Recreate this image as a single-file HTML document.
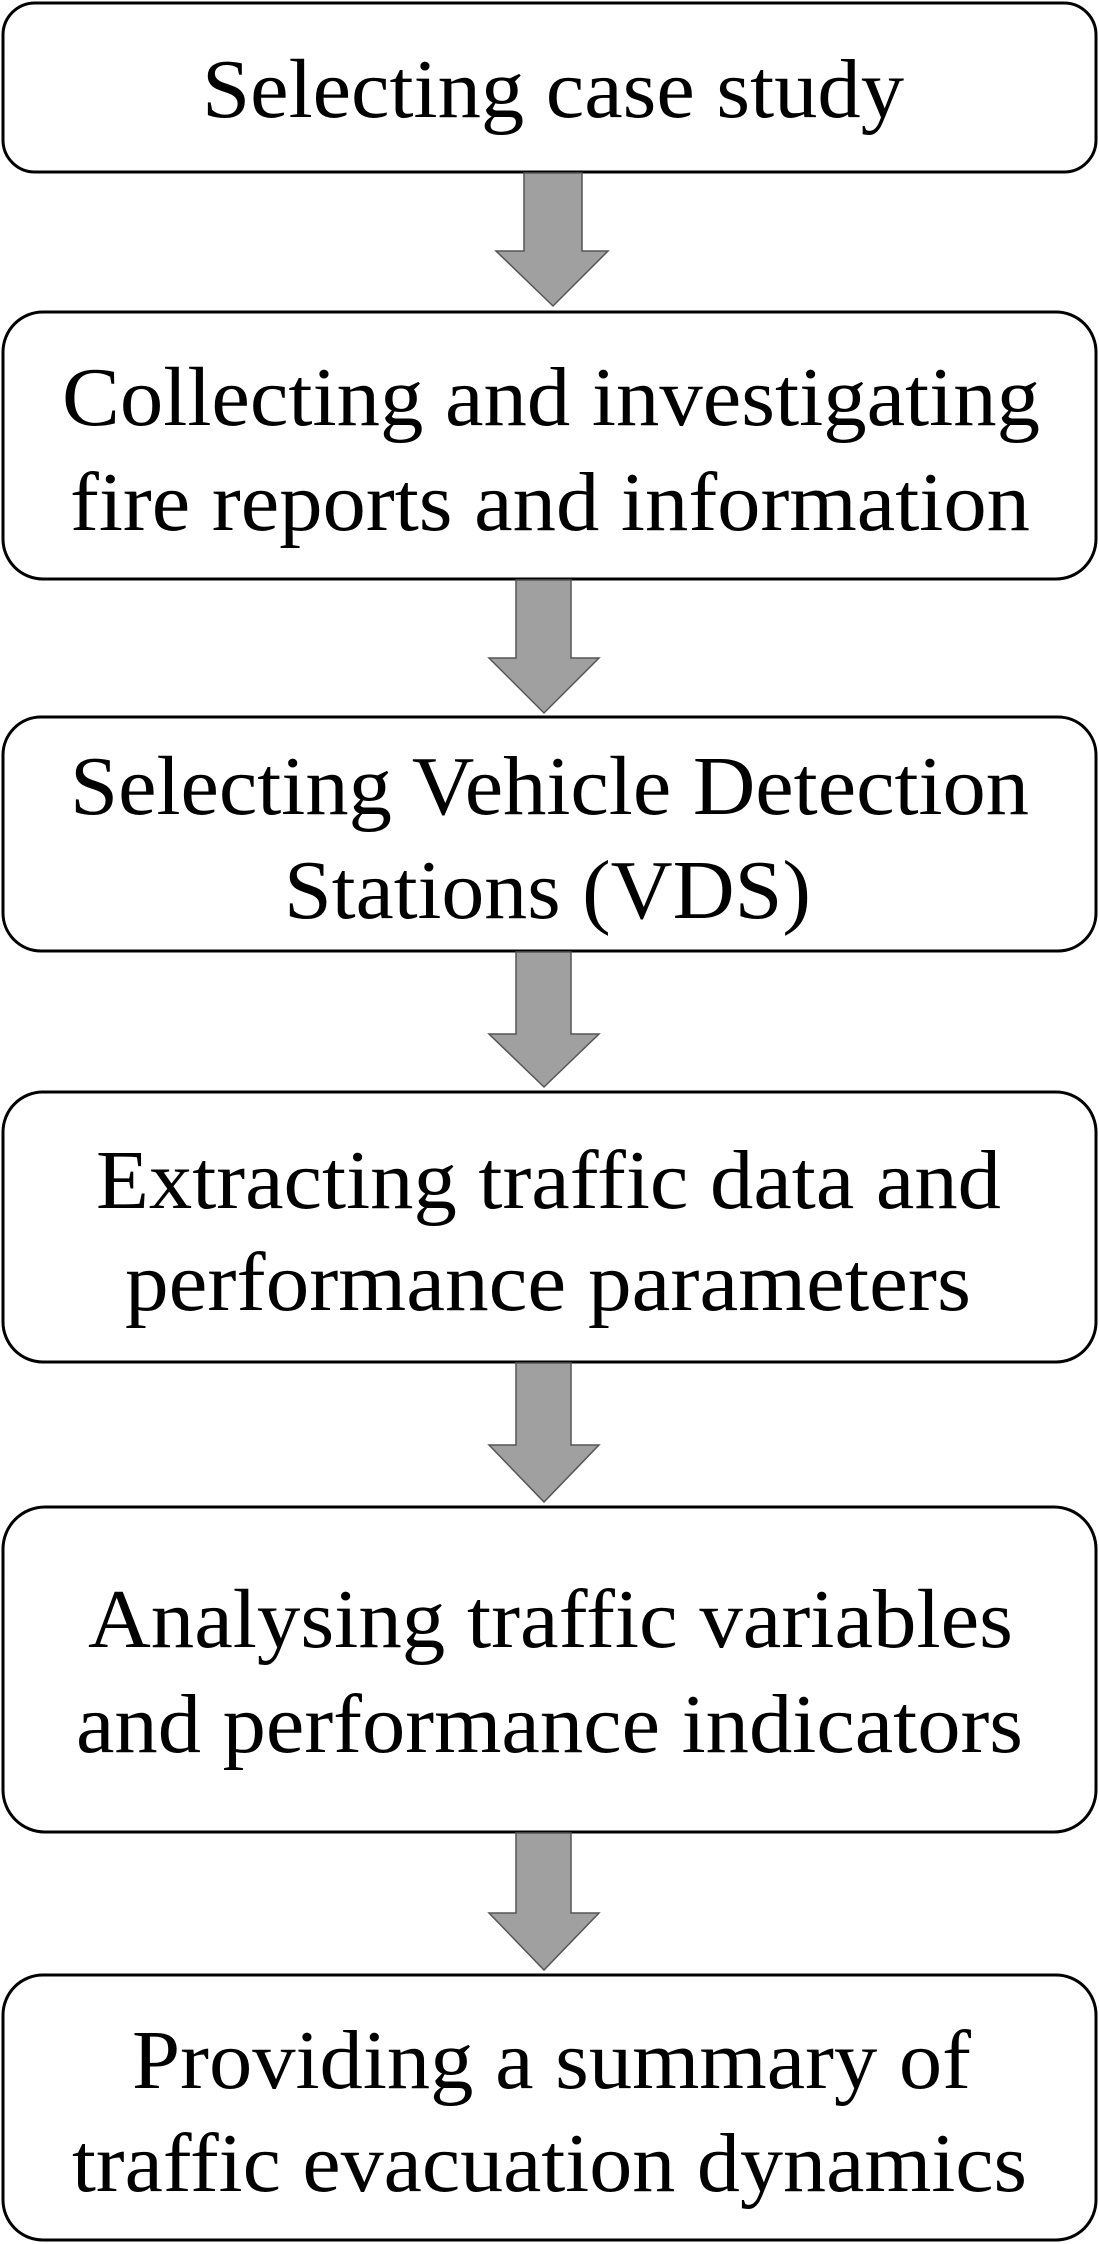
<!DOCTYPE html>
<html><head><meta charset="utf-8"><style>
html,body{margin:0;padding:0;background:#fff;}
svg{display:block;}
text{font-family:"Liberation Serif",serif;font-size:84px;fill:#000;}
</style></head><body>
<svg width="1099" height="2244" viewBox="0 0 1099 2244" xmlns="http://www.w3.org/2000/svg">
<g fill="#fff" stroke="#000" stroke-width="3">
<rect x="3" y="3" width="1093" height="169" rx="32"/>
<rect x="3" y="312" width="1093" height="267" rx="40"/>
<rect x="3" y="717" width="1093" height="234" rx="38"/>
<rect x="3" y="1092" width="1093" height="270" rx="40"/>
<rect x="3" y="1507" width="1093" height="325" rx="42"/>
<rect x="3" y="1975" width="1093" height="265" rx="40"/>
</g>
<g fill="#a0a0a0" stroke="#555" stroke-width="1.5">
<polygon points="524,173 582,173 582,251 608,251 553,306 496,251 524,251"/>
<polygon points="516,580 571,580 571,658 599,658 544,713 489,658 516,658"/>
<polygon points="516,952 571,952 571,1034 599,1034 544,1087 489,1034 516,1034"/>
<polygon points="516,1363 571,1363 571,1445 599,1445 544,1502 489,1445 516,1445"/>
<polygon points="516,1833 571,1833 571,1913 599,1913 544,1970 489,1913 516,1913"/>
</g>
<text x="202" y="117" textLength="702" lengthAdjust="spacingAndGlyphs">Selecting case study</text>
<text x="62" y="425" textLength="978" lengthAdjust="spacingAndGlyphs">Collecting and investigating</text>
<text x="70" y="530" textLength="960" lengthAdjust="spacingAndGlyphs">fire reports and information</text>
<text x="70" y="814" textLength="959" lengthAdjust="spacingAndGlyphs">Selecting Vehicle Detection</text>
<text x="284" y="918" textLength="527" lengthAdjust="spacingAndGlyphs">Stations (VDS)</text>
<text x="96" y="1208" textLength="905" lengthAdjust="spacingAndGlyphs">Extracting traffic data and</text>
<text x="125" y="1310" textLength="846" lengthAdjust="spacingAndGlyphs">performance parameters</text>
<text x="88" y="1647" textLength="925" lengthAdjust="spacingAndGlyphs">Analysing traffic variables</text>
<text x="76" y="1752" textLength="947" lengthAdjust="spacingAndGlyphs">and performance indicators</text>
<text x="132" y="2088" textLength="839" lengthAdjust="spacingAndGlyphs">Providing a summary of</text>
<text x="72" y="2191" textLength="955" lengthAdjust="spacingAndGlyphs">traffic evacuation dynamics</text>
</svg>
</body></html>
